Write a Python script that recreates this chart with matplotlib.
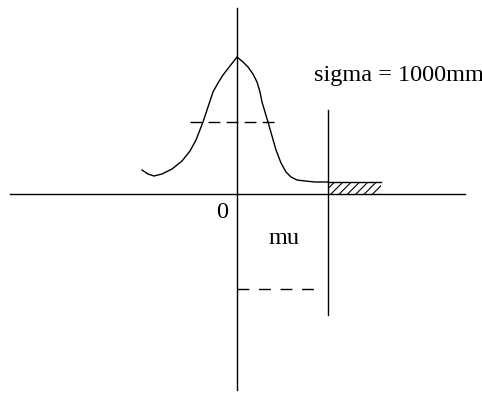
import matplotlib
matplotlib.use("Agg")
import matplotlib.pyplot as plt

# curve points (pixel coords of the schematic, y downwards)
curve_x = [142, 148, 154, 162, 172, 182, 190, 196, 203, 208, 213, 218, 223, 230, 237,
           243, 248, 253, 257, 260, 262, 265, 268, 272, 276, 281, 286, 291, 297, 305, 315, 328]
curve_y = [170, 174, 176, 174, 169, 161, 151, 140, 122, 107, 92, 83, 75, 66, 57,
           62, 67, 74, 82, 92, 102, 112, 122, 136, 150, 163, 172, 177, 180, 181, 182, 182]

labels = {"zero": "0", "mu": "mu", "sigma": "sigma = 1000mm"}

fig = plt.figure(figsize=(4.82, 3.95), dpi=100)
ax = fig.add_axes([0, 0, 1, 1])
ax.set_xlim(0, 482)
ax.set_ylim(395, 0)
ax.axis("off")

lw = 1.0
plt.rcParams["hatch.linewidth"] = 0.8
# axes
ax.plot([10, 465], [194, 194], color="black", lw=lw)
ax.plot([237, 237], [8, 390], color="black", lw=lw)
# curve
ax.plot(curve_x, curve_y, color="black", lw=lw)
# dashed lines
ax.plot([190, 280], [122, 122], color="black", lw=lw, dashes=(8.5, 4.5))
ax.plot([237, 322], [289, 289], color="black", lw=lw, dashes=(8.5, 7))
# right vertical
ax.plot([328, 328], [110, 315], color="black", lw=lw)
# hatched region
rect = plt.Rectangle((328, 182), 53, 12, fill=False, hatch="////", edgecolor="black", lw=0)
ax.add_patch(rect)
ax.plot([328, 381], [182, 182], color="black", lw=lw)

font = dict(family="Liberation Serif", fontsize=17.5, color="black")
ax.text(222, 212, labels["zero"], ha="center", va="center", **font)
ax.text(284, 238, labels["mu"], ha="center", va="center", **font)
ax.text(314, 75, labels["sigma"], ha="left", va="center", clip_on=False, **font)

fig.savefig("out.png", dpi=100)
